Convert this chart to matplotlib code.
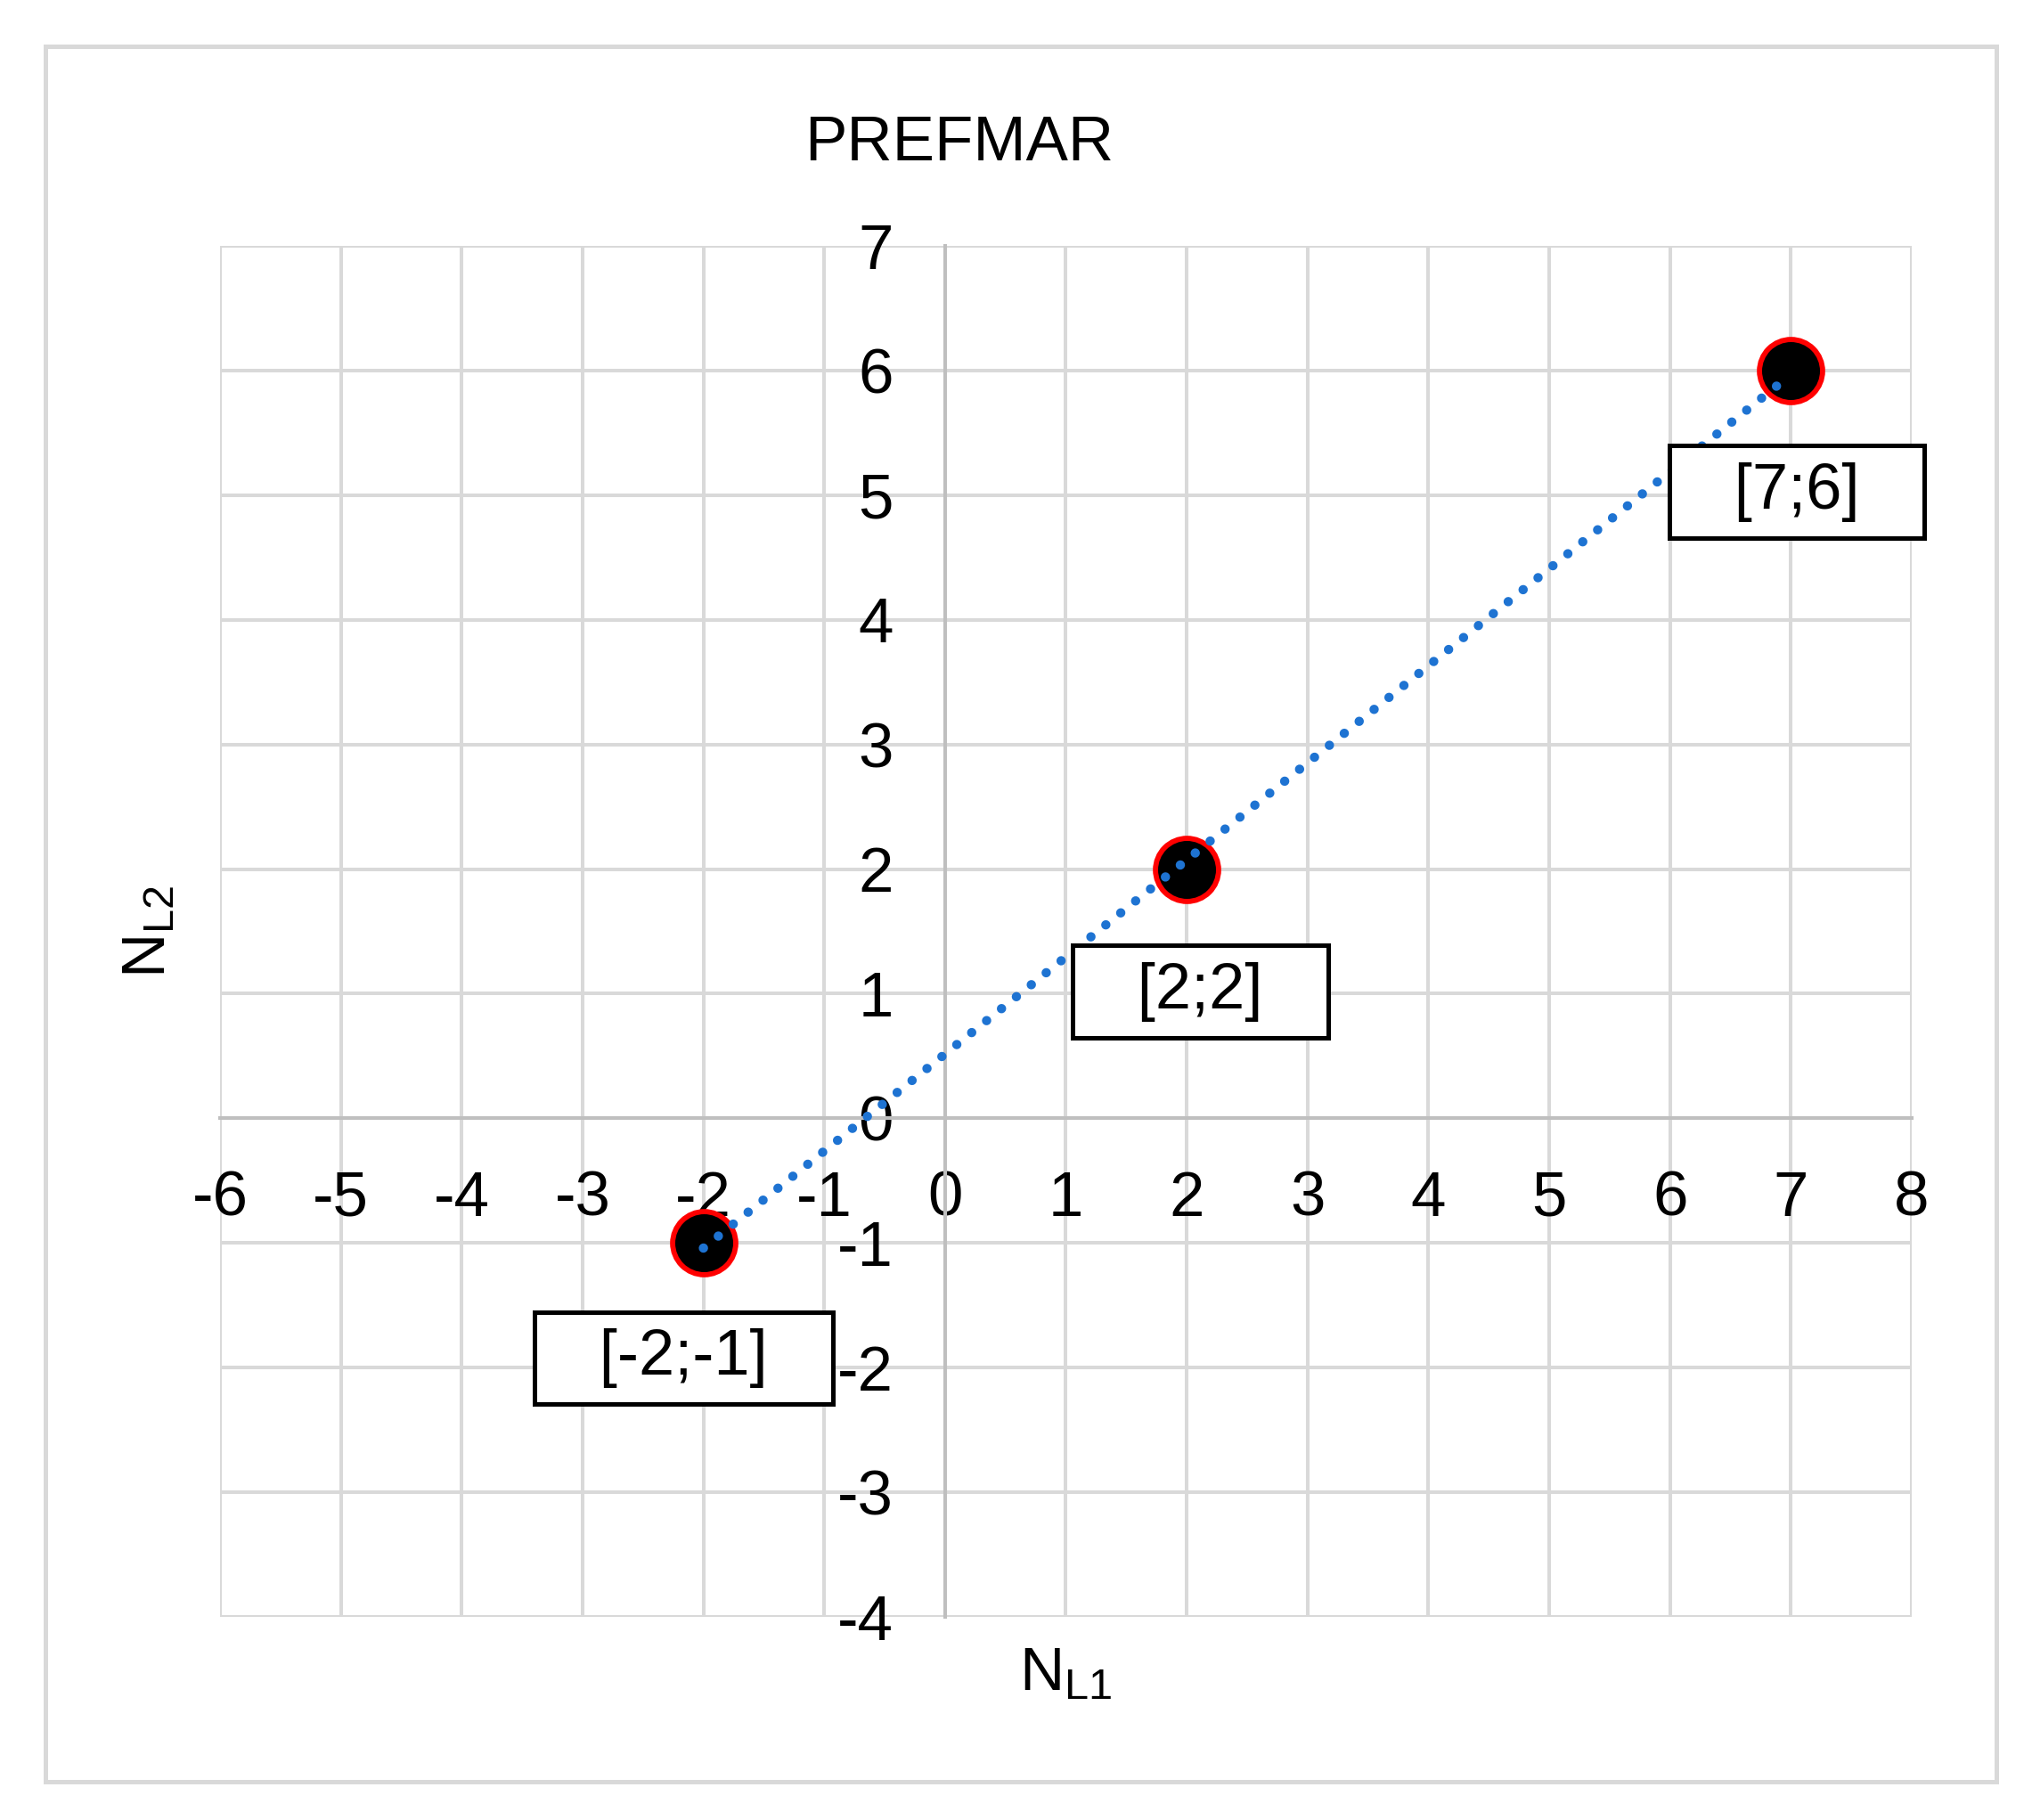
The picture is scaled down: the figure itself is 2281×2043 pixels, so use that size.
import numpy as np
import matplotlib
matplotlib.use("Agg")
import matplotlib.pyplot as plt
import matplotlib.patches as mpatches

# data
n_l1 = [-2, 2, 7]
n_l2 = [-1, 2, 6]
point_labels = ["[-2;-1]", "[2;2]", "[7;6]"]
x_ticks = list(range(-6, 9))
y_ticks = list(range(-4, 8))


def generate_plot():
    plt.rcParams["font.family"] = ["Liberation Sans", "DejaVu Sans"]
    plt.rcParams["mathtext.fontset"] = "custom"
    plt.rcParams["mathtext.rm"] = "Liberation Sans"
    plt.rcParams["mathtext.it"] = "Liberation Sans"
    plt.rcParams["mathtext.default"] = "regular"
    plt.rcParams["axes.unicode_minus"] = False  # plain hyphens like the original

    fig = plt.figure(figsize=(22.81, 20.43), dpi=100)
    ax = fig.add_axes([0.1083, 0.1116, 0.8325, 0.7533])

    ax.set_xlim(-6, 8)
    ax.set_ylim(-4, 7)
    ax.set_xticks(x_ticks)
    ax.set_yticks(y_ticks)

    # light grid, not clipped at the plot edges
    ax.grid(True, color="#d9d9d9", linewidth=2.9)
    ax.set_axisbelow(True)
    for line in ax.get_xgridlines() + ax.get_ygridlines():
        line.set_clip_on(False)

    # axes crossing at the origin
    for side in ["top", "right"]:
        ax.spines[side].set_visible(False)
    ax.spines["left"].set_position(("data", 0))
    ax.spines["bottom"].set_position(("data", 0))
    for side in ["left", "bottom"]:
        ax.spines[side].set_color("#bfbfbf")
        ax.spines[side].set_linewidth(2.9)
    ax.tick_params(length=0, labelsize=51, pad=42)

    # points
    ax.plot(n_l1, n_l2, "o", ms=51, mfc="black", mec="red", mew=4.2,
            ls="none", zorder=3, clip_on=False)

    # linear trendline
    slope, intercept = np.polyfit(n_l1, n_l2, 1)
    xs = np.array([min(n_l1), max(n_l1)])
    ax.plot(xs, slope * xs + intercept, color="#1e73d2", lw=7.5,
            ls=(0, (0.01, 2.05)), dash_capstyle="round", zorder=4)

    # data labels in boxes
    offsets = [(-16, -93), (11, -99), (5, -98)]
    for x, y, lab, (dx, dy) in zip(n_l1, n_l2, point_labels, offsets):
        ax.annotate("\u2009  " + lab + "  \u2009", (x, y), xytext=(dx, dy),
                    textcoords="offset points", ha="center", va="center",
                    fontsize=52, zorder=5,
                    bbox=dict(boxstyle="square,pad=0.25", fc="white",
                              ec="black", lw=3.6))

    ax.set_xlabel(r"$\mathregular{N_{L1}}$", fontsize=50)
    ax.xaxis.set_label_coords(0.5, -0.021)
    ax.set_ylabel(r"$\mathregular{N_{L2}}$", fontsize=50)
    ax.yaxis.set_label_coords(-0.025, 0.5)

    fig.text(0.4722, 0.9119, "PREFMAR", ha="center", va="baseline",
             fontsize=51)

    # chart area border
    fig.patches.append(mpatches.Rectangle(
        (0.0224, 0.021), 0.9601, 0.9535, transform=fig.transFigure,
        fill=False, ec="#d9d9d9", lw=3.6))

    fig.savefig("out.png", dpi=100)


if __name__ == "__main__":
    generate_plot()
